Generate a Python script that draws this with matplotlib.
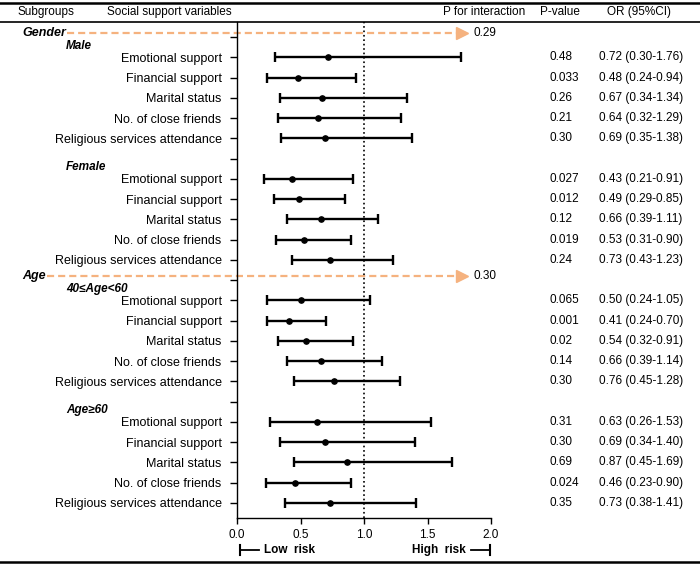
import matplotlib
matplotlib.use("Agg")
from matplotlib import pyplot as plt
from matplotlib.lines import Line2D
from matplotlib.transforms import blended_transform_factory
import numpy as np

plt.rcParams["font.family"] = ["Liberation Sans", "DejaVu Sans"]
plt.rcParams["font.size"] = 8.5

# Data
variables = ["Emotional support", "Financial support", "Marital status",
             "No. of close friends", "Religious services attendance"]
subgroups = ["Male", "Female", "40≤Age<60", "Age≥60"]
groups = ["Gender", "Age"]
p_interaction = ["0.29", "0.30"]

or_male = [0.72, 0.48, 0.67, 0.64, 0.69]
lo_male = [0.30, 0.24, 0.34, 0.32, 0.35]
hi_male = [1.76, 0.94, 1.34, 1.29, 1.38]
p_male = ["0.48", "0.033", "0.26", "0.21", "0.30"]

or_female = [0.43, 0.49, 0.66, 0.53, 0.73]
lo_female = [0.21, 0.29, 0.39, 0.31, 0.43]
hi_female = [0.91, 0.85, 1.11, 0.90, 1.23]
p_female = ["0.027", "0.012", "0.12", "0.019", "0.24"]

or_mid = [0.50, 0.41, 0.54, 0.66, 0.76]
lo_mid = [0.24, 0.24, 0.32, 0.39, 0.45]
hi_mid = [1.05, 0.70, 0.91, 1.14, 1.28]
p_mid = ["0.065", "0.001", "0.02", "0.14", "0.30"]

or_old = [0.63, 0.69, 0.87, 0.46, 0.73]
lo_old = [0.26, 0.34, 0.45, 0.23, 0.38]
hi_old = [1.53, 1.40, 1.69, 0.90, 1.41]
p_old = ["0.31", "0.30", "0.69", "0.024", "0.35"]

blocks = [
    (or_male, lo_male, hi_male, p_male),
    (or_female, lo_female, hi_female, p_female),
    (or_mid, lo_mid, hi_mid, p_mid),
    (or_old, lo_old, hi_old, p_old),
]

W, H = 700, 566


def fx(px):
    return px / W


def fy(py):
    return 1 - py / H


fig = plt.figure(figsize=(7, 5.66), dpi=100)
ax = fig.add_axes([fx(237), fy(518), fx(491) - fx(237), fy(22) - fy(518)])

row_h = 20.26
ax.set_ylim((518 - 37) / row_h, (22 - 37) / row_h)
ax.set_xlim(0, 2)

tr = blended_transform_factory(fig.transFigure, ax.transData)

orange = "#F5B27F"
ticks, labels = [], []
for b, (orv, lo, hi, pv) in enumerate(blocks):
    base = b * 6
    ticks.append(base)
    labels.append("")
    ys = base + 1 + np.arange(len(variables))
    orv, lo, hi = np.array(orv), np.array(lo), np.array(hi)
    ax.errorbar(orv, ys, xerr=[orv - lo, hi - orv], fmt="o", color="black",
                ms=3.8, elinewidth=1.7, capsize=3.3, capthick=1.7)
    for y, v in zip(ys, variables):
        ticks.append(y)
        labels.append(v)
    for y, p, o, l, h in zip(ys, pv, orv, lo, hi):
        ax.text(fx(549), y, p, transform=tr, va="center", ha="left")
        ax.text(fx(599), y, f"{o:.2f} ({l:.2f}-{h:.2f})", transform=tr,
                va="center", ha="left")
    # subgroup label
    ax.text(fx(66), base + 0.42, subgroups[b], transform=tr, va="center",
            ha="left", fontweight="bold", fontstyle="italic")

# group headers with dashed arrows
renderer = fig.canvas.get_renderer()
for g, (name, pint) in enumerate(zip(groups, p_interaction)):
    y = g * 12 - 0.22
    t = ax.text(fx(22), y, name, transform=tr, va="center", ha="left",
                fontweight="bold", fontstyle="italic", fontsize=9)
    x0 = (t.get_window_extent(renderer).x1 + 1) / W
    ax.plot([x0, fx(457)], [y, y], transform=tr, color=orange, lw=1.6,
            ls=(0, (3.2, 1.8)), clip_on=False)
    ax.plot([fx(462)], [y], transform=tr, marker=">", ms=9, color=orange,
            clip_on=False)
    ax.text(fx(473), y, pint, transform=tr, va="center", ha="left")

ax.axvline(1, color="black", ls=":", lw=1.2)

ax.set_yticks(ticks)
ax.set_yticklabels(labels, fontsize=9)
ax.set_xticks([0, 0.5, 1.0, 1.5, 2.0])
ax.set_xticklabels(["0.0", "0.5", "1.0", "1.5", "2.0"])
ax.tick_params(axis="y", length=5, width=1, pad=6)
ax.tick_params(axis="x", length=4, width=1, pad=4)
for s in ["top", "right"]:
    ax.spines[s].set_visible(False)
for s in ["left", "bottom"]:
    ax.spines[s].set_linewidth(1)

# headers
hy = fy(12)
fig.text(fx(17), hy, "Subgroups", va="center", ha="left")
fig.text(fx(107), hy, "Social support variables", va="center", ha="left")
fig.text(fx(443), hy, "P for interaction", va="center", ha="left")
fig.text(fx(540), hy, "P-value", va="center", ha="left")
fig.text(fx(607), hy, "OR (95%CI)", va="center", ha="left")

# horizontal rules
fig.add_artist(Line2D([0, 1], [fy(3), fy(3)], color="black", lw=1.8))
fig.add_artist(Line2D([0, 1], [fy(22), fy(22)], color="black", lw=1.2))
fig.add_artist(Line2D([0, 1], [fy(562), fy(562)], color="black", lw=1.8))

# risk direction
tx = blended_transform_factory(ax.transData, fig.transFigure)
ry = fy(550)
ax.plot([0.02, 0.17], [ry, ry], transform=tx, color="black", lw=1.3, clip_on=False)
ax.plot([0.02, 0.02], [ry - 0.008, ry + 0.008], transform=tx, color="black",
        lw=1.5, clip_on=False)
ax.text(0.21, ry, "Low  risk", transform=tx, va="center", ha="left",
        fontweight="bold")
ax.plot([1.84, 1.99], [ry, ry], transform=tx, color="black", lw=1.3, clip_on=False)
ax.plot([1.99, 1.99], [ry - 0.008, ry + 0.008], transform=tx, color="black",
        lw=1.5, clip_on=False)
ax.text(1.80, ry, "High  risk", transform=tx, va="center", ha="right",
        fontweight="bold")

fig.savefig("out.png", dpi=100)
